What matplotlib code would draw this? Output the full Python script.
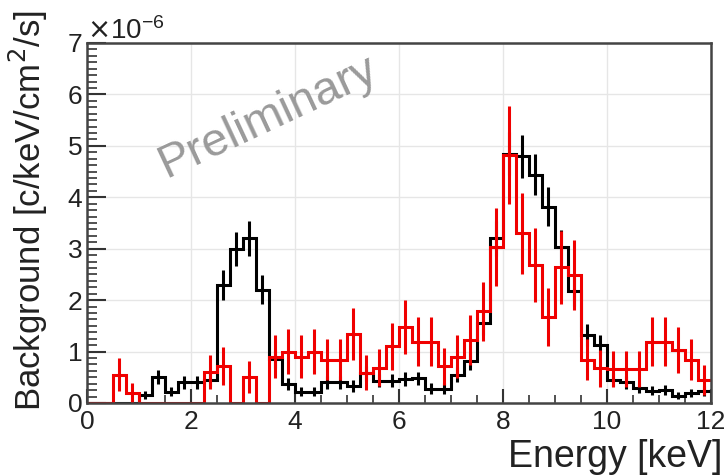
import matplotlib
matplotlib.use("Agg")
import matplotlib.pyplot as plt
import numpy as np
from matplotlib.ticker import MultipleLocator, ScalarFormatter

plt.rcParams['font.family'] = ['Liberation Sans', 'DejaVu Sans']

# 0.25 keV bins from 0 to 12 keV
edges = np.arange(0, 12.0001, 0.25)

# background rates in units of 1e-6 c/keV/cm2/s
black = np.array([0.0, 0.0, 0.0, 0.0, 0.15, 0.5, 0.22, 0.4,
                  0.4, 0.45, 2.3, 3.0, 3.2, 2.2, 0.85, 0.37,
                  0.22, 0.22, 0.4, 0.4, 0.33, 0.58, 0.43, 0.43,
                  0.47, 0.48, 0.28, 0.28, 0.55, 0.82, 1.55, 3.2,
                  4.85, 4.8, 4.44, 3.82, 3.04, 2.17, 1.32, 1.13,
                  0.45, 0.4, 0.29, 0.24, 0.25, 0.14, 0.19, 0.23])

red = np.array([0.0, 0.0, 0.55, 0.2, 0.0, 0.0, 0.0, 0.0,
                0.0, 0.6, 0.72, 0.0, 0.5, 0.0, 0.9, 1.0,
                0.9, 1.0, 0.84, 0.84, 1.34, 0.59, 0.69, 1.1,
                1.48, 1.19, 1.19, 0.71, 0.9, 1.23, 1.78, 3.04,
                4.82, 3.3, 2.68, 1.68, 2.64, 2.49, 0.84, 0.68,
                0.66, 0.66, 0.66, 1.19, 1.19, 1.03, 0.84, 0.45])

# rate per count for each spectrum (errors are sqrt(N) scaled)
black_scale = 0.036
red_scale = 0.19

black_err = np.sqrt(black_scale * black)
red_err = np.sqrt(red_scale * red)
centers = 0.5 * (edges[:-1] + edges[1:])

fig = plt.figure(figsize=(7.28, 4.75), dpi=100)
ax = fig.add_axes([0.1195, 0.1516, 0.8571, 0.7579])

ax.grid(True, color='#e6e6e6', linewidth=1.0)
ax.set_axisbelow(True)

ax.stairs(black * 1e-6, edges, color='black', linewidth=2.2, baseline=None)
ax.errorbar(centers, black * 1e-6, yerr=black_err * 1e-6, fmt='none',
            ecolor='black', elinewidth=2.2, capsize=0)

ax.stairs(red * 1e-6, edges, color='#f00000', linewidth=2.2, baseline=None)
ax.errorbar(centers, red * 1e-6, yerr=red_err * 1e-6, fmt='none',
            ecolor='#f00000', elinewidth=2.2, capsize=0)

ax.set_xlim(0, 12)
ax.set_ylim(0, 7e-6)

ax.xaxis.set_major_locator(MultipleLocator(2))
ax.xaxis.set_minor_locator(MultipleLocator(0.5))
ax.yaxis.set_major_locator(MultipleLocator(1e-6))
ax.yaxis.set_minor_locator(MultipleLocator(0.125e-6))

fmt = ScalarFormatter(useMathText=True)
fmt.set_powerlimits((0, 0))
ax.yaxis.set_major_formatter(fmt)
ax.yaxis.get_offset_text().set_fontsize(20)
ax.yaxis.get_offset_text().set_color('#222222')

ax.tick_params(which='both', direction='in', top=False, right=False,
               colors='#333333', labelcolor='#222222', labelsize=19)
ax.tick_params(axis='y', which='major', length=14, width=1.5, pad=3)
ax.tick_params(axis='y', which='minor', length=7, width=1.2)
ax.tick_params(axis='x', which='major', length=10, width=1.5, pad=5)
ax.tick_params(axis='x', which='minor', length=6, width=1.2)

for s in ax.spines.values():
    s.set_linewidth(1.8)
    s.set_color('#444444')

ax.set_xlabel('Energy [keV]', fontsize=27, loc='right', color='#222222')
ax.xaxis.set_label_coords(1.018, -0.1)
ax.set_ylabel('Background [c/keV/cm$^2$/s]', fontsize=25, loc='top',
              color='#222222')
ax.yaxis.set_label_coords(-0.06, 1.09)

ax.text(0.29, 0.795, 'Preliminary', transform=ax.transAxes, fontsize=34,
        color='#9a9a9a', rotation=25, ha='center', va='center')

fig.savefig('out.png', dpi=100)
